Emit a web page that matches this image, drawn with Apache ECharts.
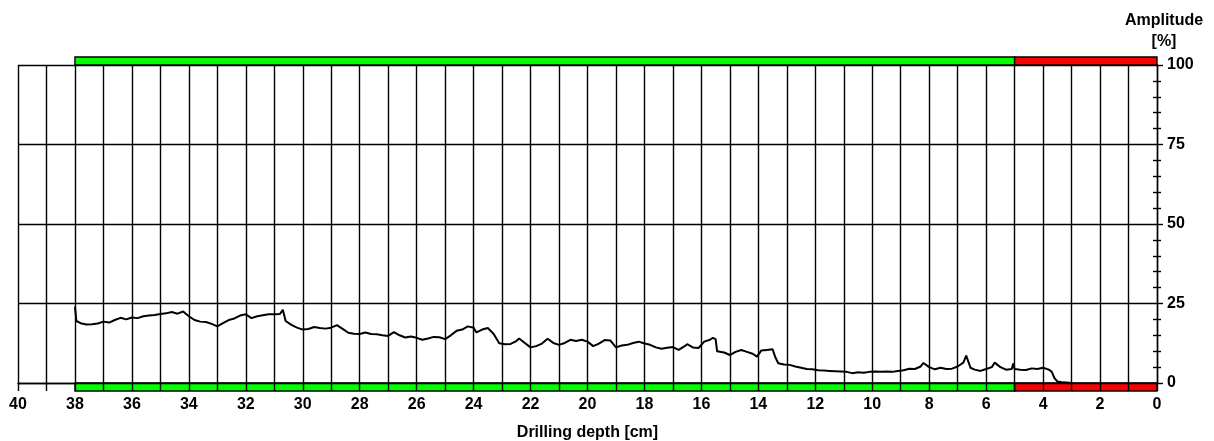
<!DOCTYPE html>
<html>
<head>
<meta charset="utf-8">
<script src="https://cdn.jsdelivr.net/npm/echarts@6/dist/echarts.min.js"></script>
<style>html,body{margin:0;padding:0;background:#fff}#c{width:1214px;height:441px}</style>
</head>
<body>
<div id="c"></div>
<script>
// Drilling depth [cm]
const depth = [38.0,37.95,37.8,37.6,37.4,37.2,37.0,36.8,36.6,36.4,36.2,36.0,35.8,35.6,35.4,35.2,35.0,34.8,34.6,34.4,34.2,34.0,33.8,33.6,33.4,33.2,33.0,32.8,32.6,32.4,32.2,32.0,31.8,31.6,31.4,31.2,31.0,30.8,30.7,30.6,30.4,30.2,30.0,29.8,29.6,29.4,29.2,29.0,28.8,28.6,28.4,28.2,28.0,27.8,27.6,27.4,27.2,27.0,26.8,26.6,26.4,26.2,26.0,25.8,25.6,25.4,25.2,25.0,24.8,24.6,24.4,24.2,24.0,23.9,23.7,23.5,23.3,23.1,22.9,22.7,22.5,22.4,22.2,22.0,21.8,21.6,21.4,21.2,21.0,20.8,20.6,20.4,20.2,20.0,19.8,19.6,19.4,19.2,19.0,18.8,18.6,18.4,18.2,18.0,17.8,17.6,17.4,17.2,17.0,16.8,16.6,16.5,16.3,16.1,15.9,15.7,15.6,15.5,15.45,15.2,15.0,14.8,14.6,14.4,14.2,14.05,13.9,13.7,13.5,13.4,13.3,13.1,12.9,12.7,12.5,12.3,12.1,11.9,11.7,11.5,11.3,11.1,10.9,10.7,10.5,10.3,10.1,9.9,9.7,9.5,9.3,9.1,8.9,8.7,8.5,8.3,8.2,8.0,7.8,7.6,7.4,7.2,7.0,6.8,6.7,6.55,6.4,6.2,6.0,5.8,5.7,5.5,5.3,5.1,5.05,5.0,4.8,4.6,4.4,4.2,4.0,3.8,3.7,3.6,3.5,3.3,3.1,3.0];
// Amplitude [%]
const amplitude = [24.0,19.5,18.8,18.4,18.5,18.7,19.3,19.0,19.8,20.5,20.0,20.6,20.4,21.0,21.2,21.4,21.7,21.9,22.3,21.8,22.5,21.0,19.8,19.3,19.2,18.6,17.8,18.8,19.8,20.3,21.2,21.6,20.4,21.0,21.3,21.6,21.6,21.7,23.0,19.5,18.3,17.4,16.8,17.0,17.6,17.3,17.1,17.4,18.2,17.0,15.8,15.5,15.4,15.9,15.4,15.3,15.0,14.8,16.0,15.0,14.3,14.6,14.2,13.6,14.0,14.5,14.4,13.8,15.0,16.4,16.8,17.8,17.4,15.9,16.8,17.3,15.5,12.5,12.2,12.3,13.2,14.0,12.6,11.2,11.6,12.4,13.9,12.6,12.0,12.6,13.6,13.2,13.6,13.0,11.6,12.4,13.5,13.4,11.2,11.8,12.0,12.6,13.0,12.4,12.0,11.2,10.8,11.1,11.3,10.4,11.5,12.2,11.2,11.0,13.0,13.6,14.2,13.8,10.0,9.6,8.8,9.8,10.4,9.8,9.2,8.3,10.2,10.4,10.6,8.0,6.2,5.8,5.7,5.2,4.8,4.4,4.3,4.0,3.9,3.8,3.7,3.6,3.5,3.1,3.4,3.2,3.5,3.6,3.5,3.6,3.5,3.8,4.0,4.5,4.4,5.2,6.3,5.0,4.3,4.8,4.4,4.5,5.2,6.4,8.6,4.8,4.2,3.8,4.4,5.0,6.4,5.0,4.2,4.4,6.1,4.4,4.2,4.1,4.6,4.4,4.8,4.2,3.6,1.5,0.5,0.2,0.1,0.0];
// Status bands [from, to, colour]
const bandFrom = [38, 5];
const bandTo = [5, 0];
const bandColor = ['#00ff00', '#ff0000'];
const xTicks = [40,38,36,34,32,30,28,26,24,22,20,18,16,14,12,10,8,6,4,2,0];
const yTicks = [0,25,50,75,100];

const font = 'Liberation Sans, Arial, sans-serif';
const lineData = depth.map((d, i) => [d, amplitude[i]]);
const bandData = [];
for (let i = 0; i < bandFrom.length; i++) {
  bandData.push([bandFrom[i], bandTo[i], i, 1]);
  bandData.push([bandFrom[i], bandTo[i], i, 0]);
}

const chart = echarts.init(document.getElementById('c'));
chart.setOption({
  animation: false,
  grid: { left: 18, right: 57, top: 65, bottom: 58, containLabel: false, outerBoundsMode: 'none' },
  xAxis: {
    type: 'value', inverse: true, min: 0, max: 40, interval: 1, z: 5,
    name: 'Drilling depth [cm]', nameLocation: 'middle', nameGap: 42,
    nameTextStyle: { fontFamily: font, fontWeight: 'bold', fontSize: 16, color: '#000' },
    axisLine: { show: true, onZero: false, lineStyle: { color: '#000', width: 1.4 } },
    axisTick: { show: true, length: 8, lineStyle: { color: '#000', width: 1.4 } },
    axisLabel: {
      margin: 14, fontFamily: font, fontWeight: 'bold', fontSize: 16, color: '#000',
      formatter: v => xTicks.indexOf(v) >= 0 ? String(v) : ''
    },
    splitLine: { show: true, lineStyle: { color: '#000', width: 1.4 } }
  },
  yAxis: [{
    type: 'value', position: 'right', min: 0, max: 100, interval: 25,
    name: 'Amplitude\n[%]', nameLocation: 'end', nameGap: 13,
    nameTextStyle: { fontFamily: font, fontWeight: 'bold', fontSize: 16, color: '#000', lineHeight: 21, padding: [0, 0, 0, 14] },
    axisLine: { show: true, lineStyle: { color: '#000', width: 1.4 } },
    axisTick: { show: true, length: 6, lineStyle: { color: '#000', width: 1.4 } },
    minorTick: { show: true, splitNumber: 5, length: 4, lineStyle: { color: '#000', width: 1.4 } },
    axisLabel: { margin: 10, fontFamily: font, fontWeight: 'bold', fontSize: 16, color: '#000',
      formatter: v => yTicks.indexOf(v) >= 0 ? String(v) : '' },
    splitLine: { show: true, lineStyle: { color: '#000', width: 1.4 } }
  }, {
    type: 'value', position: 'right', min: 0, max: 100, interval: 25,
    axisLine: { show: false },
    axisTick: { show: false, inside: true },
    minorTick: { show: true, splitNumber: 5, length: 4, lineStyle: { color: '#000', width: 1.4 } },
    axisLabel: { show: false },
    splitLine: { show: false }
  }],
  series: [{
    type: 'custom', z: 1, silent: true, clip: false,
    data: bandData,
    renderItem: function (params, api) {
      const top = api.value(3) === 1;
      const yv = top ? 100 : 0;
      const p1 = api.coord([api.value(0), yv]);
      const p2 = api.coord([api.value(1), yv]);
      const h = 8;
      return {
        type: 'rect',
        shape: { x: Math.min(p1[0], p2[0]), y: top ? p1[1] - h : p1[1], width: Math.abs(p2[0] - p1[0]), height: h },
        style: { fill: bandColor[api.value(2)], stroke: '#000', lineWidth: 1.4 }
      };
    }
  }, {
    type: 'line', z: 3, data: lineData, showSymbol: false, symbol: 'none',
    lineStyle: { color: '#000', width: 2 }
  }]
});
</script>
</body>
</html>
